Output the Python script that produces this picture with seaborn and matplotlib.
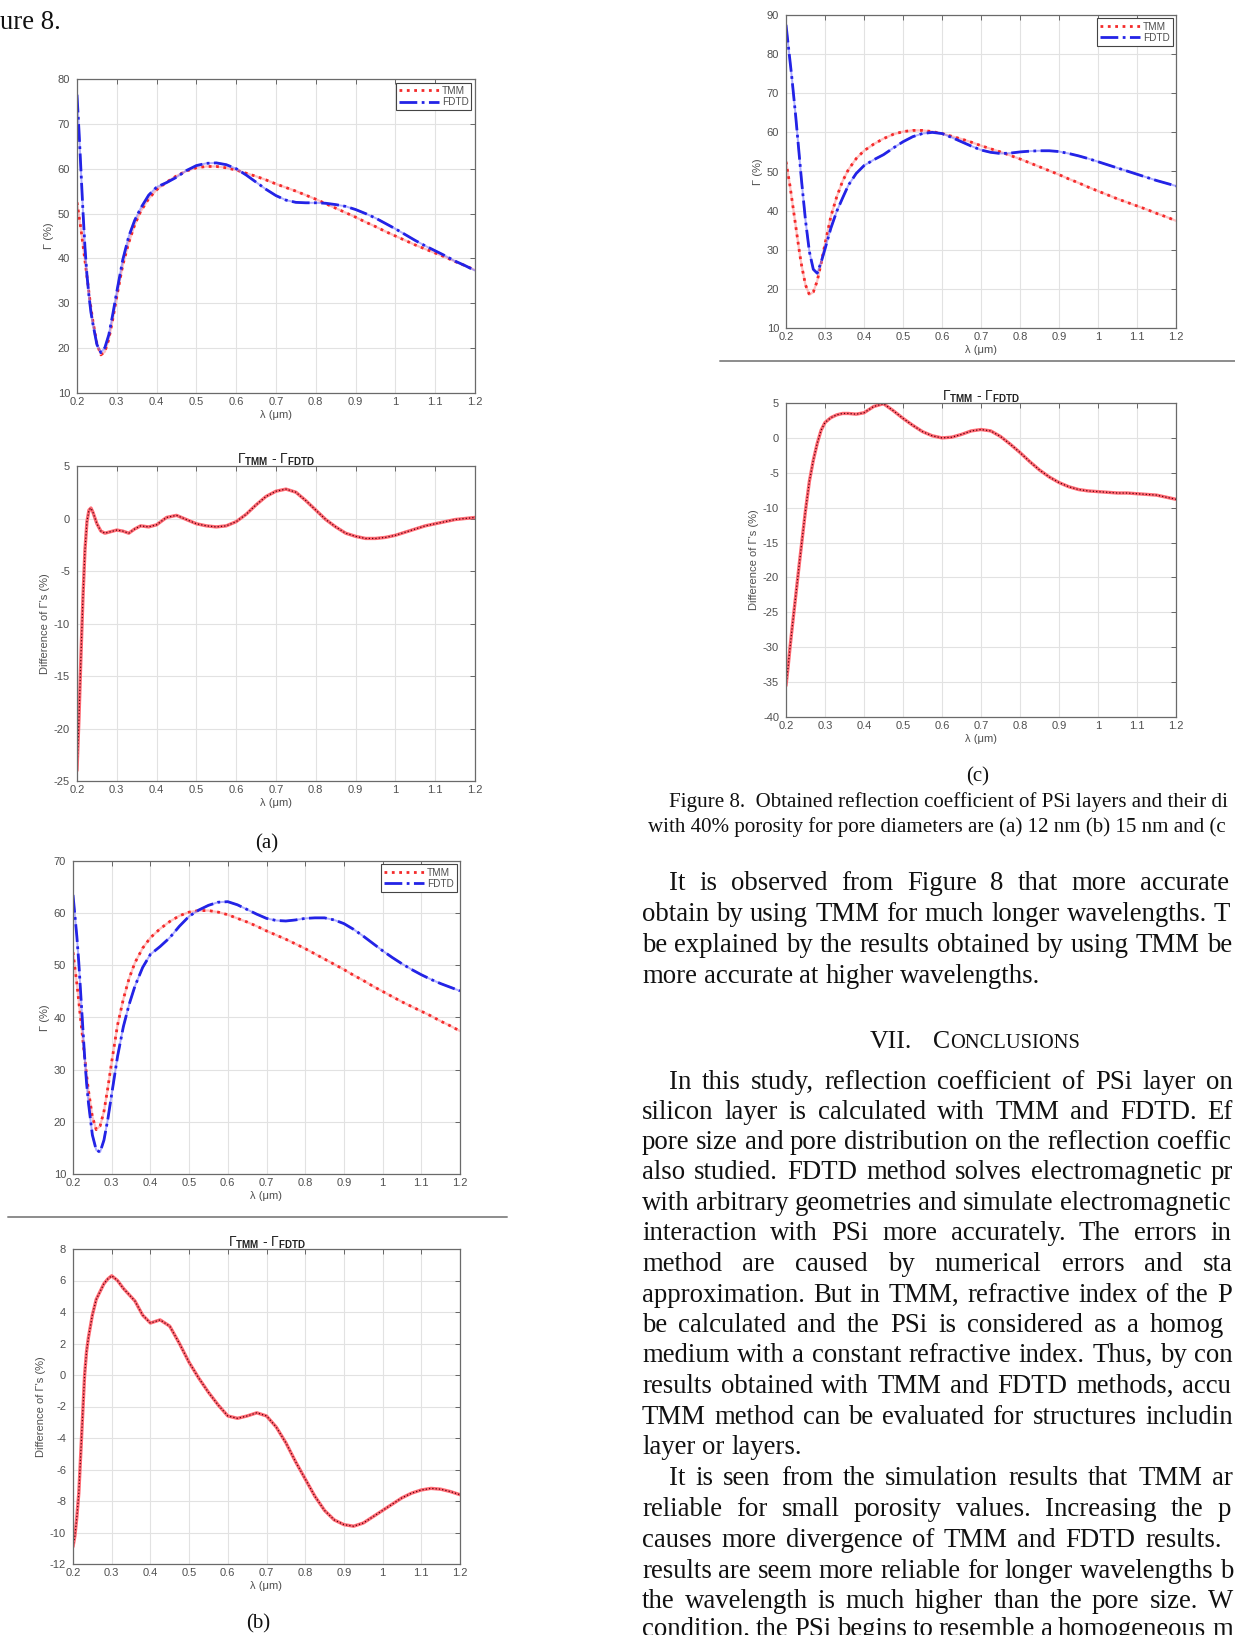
import numpy as np
import matplotlib
matplotlib.use("Agg")
import matplotlib.pyplot as plt
import seaborn as sns
from matplotlib.lines import Line2D

# ---------------- data ----------------
WAVELENGTH = [0.200, 0.205, 0.210, 0.215, 0.220, 0.225, 0.230, 0.235, 0.240, 0.250,
              0.260, 0.270, 0.280, 0.290, 0.300, 0.315, 0.330, 0.345, 0.360, 0.380,
              0.400, 0.425, 0.450, 0.475, 0.500, 0.525, 0.550, 0.575, 0.600, 0.625,
              0.650, 0.675, 0.700, 0.725, 0.750, 0.775, 0.800, 0.825, 0.850, 0.875,
              0.900, 0.925, 0.950, 0.975, 1.000, 1.025, 1.050, 1.075, 1.100, 1.125,
              1.150, 1.175, 1.200]

TMM = [52.5, 49.5, 46.5, 43.0, 39.5, 36.0, 32.5, 29.0, 26.0, 21.0,
       18.5, 19.2, 22.0, 26.5, 31.5, 38.5, 43.5, 47.5, 50.5, 53.3,
       55.3, 57.0, 58.4, 59.5, 60.2, 60.5, 60.5, 60.2, 59.7, 59.0,
       58.3, 57.5, 56.6, 55.8, 55.0, 54.1, 53.2, 52.2, 51.2, 50.2,
       49.2, 48.1, 47.1, 46.0, 45.0, 44.0, 43.0, 42.1, 41.2, 40.3,
       39.3, 38.4, 37.4]

FDTD_A = [76.5, 68.5, 59.5, 50.5, 42.5, 36.3, 31.7, 28.0, 25.4, 20.8,
          19.0, 20.1, 23.0, 27.6, 32.6, 39.7, 44.9, 48.5, 51.2, 54.1,
          55.9, 56.9, 58.1, 59.6, 60.7, 61.2, 61.3, 60.9, 60.0, 58.6,
          57.0, 55.4, 54.0, 53.0, 52.5, 52.4, 52.4, 52.3, 52.0, 51.6,
          50.9, 50.0, 49.0, 47.8, 46.6, 45.3, 44.0, 42.8, 41.7, 40.6,
          39.4, 38.4, 37.3]

DIFF_A = [-24.0, -19.0, -13.0, -7.5, -3.0, -0.3, 0.8, 1.0, 0.6, -0.5,
          -1.2, -1.4, -1.3, -1.2, -1.1, -1.2, -1.4, -1.0, -0.7, -0.8,
          -0.6, 0.1, 0.3, -0.1, -0.5, -0.7, -0.8, -0.7, -0.3, 0.4,
          1.3, 2.1, 2.6, 2.8, 2.5, 1.7, 0.8, -0.1, -0.8, -1.4,
          -1.7, -1.9, -1.9, -1.8, -1.6, -1.3, -1.0, -0.7, -0.5, -0.3,
          -0.1, 0.0, 0.1]

FDTD_B = [63.5, 59.5, 55.5, 50.5, 44.5, 38.5, 32.5, 27.5, 23.6, 17.5,
          14.6, 14.2, 16.5, 20.5, 25.3, 32.5, 38.2, 42.5, 46.0, 49.6,
          52.1, 53.6, 55.3, 57.5, 59.4, 60.6, 61.5, 62.1, 62.2, 61.6,
          60.7, 59.8, 59.0, 58.6, 58.5, 58.7, 59.0, 59.1, 59.1, 58.7,
          58.0, 56.9, 55.6, 54.2, 52.8, 51.5, 50.3, 49.2, 48.2, 47.3,
          46.5, 45.8, 45.1]

DIFF_B = [-10.9, -10.2, -9.0, -7.5, -5.0, -2.5, 0.0, 1.5, 2.4, 3.8,
          4.8, 5.3, 5.8, 6.1, 6.3, 6.0, 5.5, 5.1, 4.7, 3.8,
          3.3, 3.5, 3.1, 2.0, 0.8, -0.2, -1.1, -1.9, -2.6, -2.75,
          -2.6, -2.4, -2.6, -3.3, -4.3, -5.5, -6.6, -7.7, -8.6, -9.2,
          -9.5, -9.6, -9.4, -9.0, -8.6, -8.2, -7.8, -7.5, -7.3, -7.2,
          -7.25, -7.4, -7.6]

FDTD_C = [87.5, 83.0, 78.5, 74.0, 69.0, 64.0, 58.5, 53.0, 47.5, 37.5,
          29.5, 25.0, 24.0, 26.8, 30.2, 35.5, 39.8, 43.2, 46.5, 49.5,
          51.5, 53.0, 54.3, 56.0, 57.6, 58.9, 59.7, 60.0, 59.7, 58.7,
          57.6, 56.5, 55.5, 54.9, 54.6, 54.7, 55.0, 55.2, 55.3, 55.3,
          55.1, 54.6, 54.0, 53.3, 52.5, 51.7, 50.9, 50.1, 49.3, 48.5,
          47.7, 47.0, 46.3]

DIFF_C = [-35.5, -33.0, -30.2, -27.6, -25.1, -22.6, -20.1, -17.6, -15.2, -10.4,
          -6.2, -3.2, -0.8, 1.1, 2.2, 2.9, 3.3, 3.5, 3.5, 3.4,
          3.6, 4.5, 4.9, 3.9, 2.8, 1.8, 0.9, 0.3, 0.0, 0.1,
          0.5, 1.0, 1.2, 1.0, 0.2, -0.9, -2.1, -3.4, -4.6, -5.6,
          -6.4, -7.0, -7.4, -7.6, -7.7, -7.8, -7.9, -7.9, -8.0, -8.1,
          -8.2, -8.5, -8.8]

X_TICKS = [0.2, 0.3, 0.4, 0.5, 0.6, 0.7, 0.8, 0.9, 1.0, 1.1, 1.2]
X_TICK_LABELS = ["0.2", "0.3", "0.4", "0.5", "0.6", "0.7", "0.8", "0.9", "1", "1.1", "1.2"]
YT_A_TOP = [10, 20, 30, 40, 50, 60, 70, 80]
YT_A_DIFF = [-25, -20, -15, -10, -5, 0, 5]
YT_B_TOP = [10, 20, 30, 40, 50, 60, 70]
YT_B_DIFF = [-12, -10, -8, -6, -4, -2, 0, 2, 4, 6, 8]
YT_C_TOP = [10, 20, 30, 40, 50, 60, 70, 80, 90]
YT_C_DIFF = [-40, -35, -30, -25, -20, -15, -10, -5, 0, 5]

SERIES_NAMES = ["TMM", "FDTD"]
XLABEL = "λ (μm)"
YLABEL_TOP = "Γ (%)"
YLABEL_DIFF = "Difference of Γ's (%)"
DIFF_TITLE = r"$\Gamma_{\mathbf{TMM}}$ - $\Gamma_{\mathbf{FDTD}}$"

# ---------------- style ----------------
sns.set_theme(style="white")
plt.rcParams["font.family"] = ["Liberation Sans", "DejaVu Sans"]
plt.rcParams["mathtext.fontset"] = "custom"
plt.rcParams["mathtext.rm"] = "Liberation Sans"
plt.rcParams["mathtext.it"] = "Liberation Sans:italic"
plt.rcParams["mathtext.bf"] = "Liberation Sans:bold"

W, H = 1235, 1635
fig = plt.figure(figsize=(W / 100, H / 100), dpi=100)
fig.patch.set_facecolor("white")

RED = "#f42a2a"
BLUE = "#2323e6"
GREY_TXT = "#4f4f4f"


def add_ax(x0, y0, x1, y1):
    return fig.add_axes([x0 / W, 1 - y1 / H, (x1 - x0) / W, (y1 - y0) / H])


def style_ax(ax, ylim, yticks, ylabel, title=None):
    ax.set_xlim(0.2, 1.2)
    ax.set_ylim(*ylim)
    ax.set_xticks(X_TICKS)
    ax.set_xticklabels(X_TICK_LABELS)
    ax.set_yticks(yticks)
    ax.set_yticklabels([str(v) for v in yticks])
    ax.grid(True, color="#e2e2e2", lw=0.8)
    ax.set_axisbelow(True)
    ax.tick_params(direction="in", length=3.5, width=0.7, top=True, right=True,
                   labelsize=8, labelcolor=GREY_TXT, color="#666666")
    ax.tick_params(axis="x", pad=3)
    ax.tick_params(axis="y", pad=5)
    for s in ax.spines.values():
        s.set_visible(True)
        s.set_color("#6a6a6a")
        s.set_linewidth(0.9)
    ax.set_xlabel(XLABEL, fontsize=8, color=GREY_TXT, labelpad=2)
    ax.set_ylabel(ylabel, fontsize=8, color=GREY_TXT, labelpad=3)
    if title:
        ax.set_title(title, fontsize=10, pad=2, color="#222222")


def draw_top(ax, fdtd):
    sns.lineplot(x=WAVELENGTH, y=TMM, ax=ax, color="#ff9a9a", lw=1.6, alpha=0.6)
    sns.lineplot(x=WAVELENGTH, y=TMM, ax=ax, color=RED, lw=2.0, linestyle=":")
    sns.lineplot(x=WAVELENGTH, y=fdtd, ax=ax, color="#7a7aff", lw=1.4, alpha=0.6)
    sns.lineplot(x=WAVELENGTH, y=fdtd, ax=ax, color=BLUE, lw=2.0, linestyle="-.")
    handles = [Line2D([], [], color=RED, lw=2.0, linestyle=":"),
               Line2D([], [], color=BLUE, lw=2.0, linestyle="-.")]
    leg = ax.legend(handles, SERIES_NAMES, loc="upper right", fontsize=7.2,
                    handlelength=4.0, handletextpad=0.3, borderpad=0.3,
                    labelspacing=0.15, borderaxespad=0.35, fancybox=False,
                    framealpha=1, edgecolor="#444444")
    leg.get_frame().set_linewidth(0.8)
    for t in leg.get_texts():
        t.set_color(GREY_TXT)


def draw_diff(ax, diff):
    sns.lineplot(x=WAVELENGTH, y=diff, ax=ax, color="#ff5a64", lw=2.4, alpha=0.9)
    sns.lineplot(x=WAVELENGTH, y=diff, ax=ax, color="#5a0010", lw=0.9, linestyle=":")


# (a)
ax = add_ax(77, 79, 475, 393)
draw_top(ax, FDTD_A)
style_ax(ax, (10, 80), YT_A_TOP, YLABEL_TOP)
ax = add_ax(77, 466, 475, 781)
draw_diff(ax, DIFF_A)
style_ax(ax, (-25, 5), YT_A_DIFF, YLABEL_DIFF, DIFF_TITLE)
# (b)
ax = add_ax(73, 861, 460, 1174)
draw_top(ax, FDTD_B)
style_ax(ax, (10, 70), YT_B_TOP, YLABEL_TOP)
ax = add_ax(73, 1249, 460, 1564)
draw_diff(ax, DIFF_B)
style_ax(ax, (-12, 8), YT_B_DIFF, YLABEL_DIFF, DIFF_TITLE)
# (c)
ax = add_ax(786, 15, 1176, 328)
draw_top(ax, FDTD_C)
style_ax(ax, (10, 90), YT_C_TOP, YLABEL_TOP)
ax = add_ax(786, 403, 1176, 717)
draw_diff(ax, DIFF_C)
style_ax(ax, (-40, 5), YT_C_DIFF, YLABEL_DIFF, DIFF_TITLE)

# separator rules
fig.add_artist(Line2D([8 / W, 507 / W], [1 - 1217 / H] * 2, color="#8c8c8c", lw=1.4))
fig.add_artist(Line2D([720 / W, 1.0], [1 - 361 / H] * 2, color="#8c8c8c", lw=1.4))

# ---------------- page text ----------------
SERIF = ["Liberation Serif", "DejaVu Serif"]
BODY = 19.3
CAP = 15.1
RIGHT_LIMIT = 1233
renderer = fig.canvas.get_renderer()


def ptext(x, y, s, size, ha="left"):
    return fig.text(x / W, 1 - y / H, s, fontsize=size, family=SERIF,
                    ha=ha, va="baseline", color="#111111")


def place_line(text, x0, ybase, size, x_last=None):
    words = text.split(" ")
    objs = [ptext(0, ybase, w, size) for w in words]
    widths = [o.get_window_extent(renderer).width for o in objs]
    if x_last is not None and len(words) > 1:
        x_last = min(x_last, RIGHT_LIMIT - widths[-1])
        gap = (x_last - x0 - sum(widths[:-1])) / (len(words) - 1)
    else:
        gap = 0.25 * size * 100 / 72
    x = x0
    for o, w in zip(objs, widths):
        o.set_x(x / W)
        x += w + gap


ptext(0, 29, "ure 8.", BODY)
ptext(267, 848, "(a)", 15.0, ha="center")
ptext(258, 1628, "(b)", 15.0, ha="center")
ptext(978, 781, "(c)", 15.0, ha="center")

ptext(669, 807, "Figure 8.  Obtained reflection coefficient of PSi layers and their di", CAP)
ptext(648, 832, "with 40% porosity for pore diameters are (a) 12 nm (b) 15 nm and (c", CAP)

# heading with small caps
ptext(870, 1048, "VII.", 18.5)
c_obj = ptext(933, 1048, "C", 18.5)
cw = c_obj.get_window_extent(renderer).width
ptext(933 + cw, 1048, "ONCLUSIONS", 14.8)

LINES = [
    ("It is observed from Figure 8 that more accurate", 669, 883, 1140),
    ("obtain by using TMM for much longer wavelengths. T", 642, 914, 1214),
    ("be explained by the results obtained by using TMM be", 642, 945, 1207),
    ("more accurate at higher wavelengths.", 642, 976, None),
    ("In this study, reflection coefficient of PSi layer on", 669, 1082, 1207),
    ("silicon layer is calculated with TMM and FDTD. Ef", 642, 1112, 1209),
    ("pore size and pore distribution on the reflection coeffic", 642, 1142, None),
    ("also studied. FDTD method solves electromagnetic pr", 642, 1172, 1212),
    ("with arbitrary geometries and simulate electromagnetic", 642, 1203, 1060),
    ("interaction with PSi more accurately. The errors in", 642, 1233, 1210),
    ("method are caused by numerical errors and sta", 642, 1264, 1204),
    ("approximation. But in TMM, refractive index of the P", 642, 1295, 1217),
    ("be calculated and the PSi is considered as a homog", 642, 1325, 1150),
    ("medium with a constant refractive index. Thus, by con", 642, 1355, 1195),
    ("results obtained with TMM and FDTD methods, accu", 642, 1386, 1182),
    ("TMM method can be evaluated for structures includin", 642, 1417, 1145),
    ("layer or layers.", 642, 1447, None),
    ("It is seen from the simulation results that TMM ar", 669, 1478, 1212),
    ("reliable for small porosity values. Increasing the p", 642, 1509, 1218),
    ("causes more divergence of TMM and FDTD results.", 642, 1540, 1145),
    ("results are seem more reliable for longer wavelengths b", 642, 1571, 1220),
    ("the wavelength is much higher than the pore size. W", 642, 1601, 1208),
    ("condition, the PSi begins to resemble a homogeneous m", 642, 1629, 1212),
]
for text, x0, yc, xl in LINES:
    place_line(text, x0, yc + 7, BODY, xl)

fig.savefig("out.png", dpi=100, facecolor="white")
